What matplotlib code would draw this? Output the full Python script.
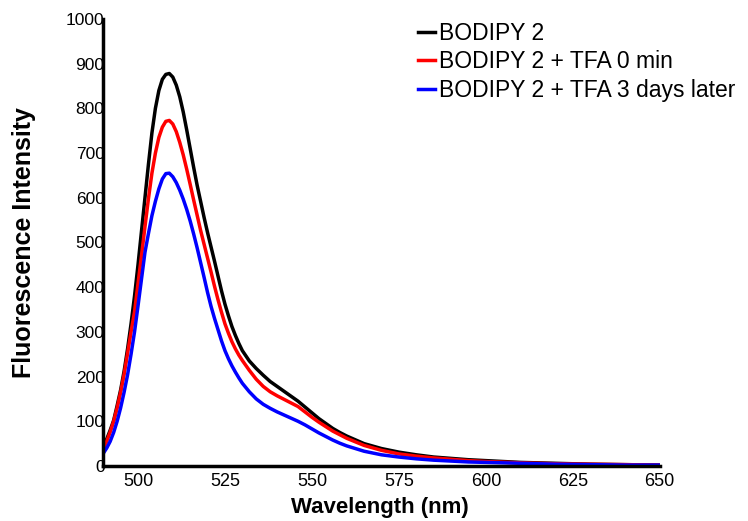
import matplotlib
matplotlib.use("Agg")
import matplotlib.pyplot as plt

wl = [490, 491, 492, 493, 494, 495, 496, 497, 498, 499, 500, 501, 502, 503, 504, 505,
      506, 507, 508, 509, 510, 511, 512, 513, 514, 515, 516, 517, 518, 519, 520, 521,
      522, 523, 524, 525, 526, 527, 528, 529, 530, 532, 534, 536, 538, 540, 542, 544,
      546, 548, 550, 552, 554, 556, 558, 560, 565, 570, 575, 580, 585, 590, 595, 600,
      610, 620, 630, 640, 650]

bodipy = [42, 60, 80, 102, 135, 170, 212, 262, 318, 380, 450, 525, 600, 675, 745, 800,
          840, 865, 876, 878, 870, 852, 826, 792, 752, 710, 668, 628, 592, 556, 522, 490,
          458, 425, 392, 362, 336, 312, 292, 274, 258, 235, 218, 203, 189, 178, 167, 156,
          145, 132, 119, 106, 95, 84, 75, 67, 50, 39, 31, 25, 20, 17, 14, 12,
          8, 6, 4, 3, 2]

tfa_0 = [38, 55, 76, 100, 130, 165, 205, 252, 300, 345, 408, 470, 535, 598, 655, 700,
         735, 758, 771, 773, 765, 748, 724, 696, 664, 630, 595, 561, 527, 496, 465, 434,
         402, 372, 344, 318, 297, 278, 262, 248, 236, 214, 194, 178, 166, 157, 149, 141,
         133, 121, 109, 98, 88, 78, 70, 62, 46, 35, 27, 22, 18, 15, 12, 10,
         7, 5, 4, 3, 2]

tfa_3d = [28, 40, 55, 75, 100, 130, 165, 204, 250, 300, 358, 418, 478, 520, 560, 592,
          620, 642, 654, 655, 647, 634, 617, 597, 574, 548, 519, 488, 455, 422, 388, 357,
          330, 305, 280, 258, 240, 224, 210, 197, 185, 166, 150, 138, 129, 121, 114, 107,
          100, 92, 83, 74, 66, 58, 51, 45, 33, 25, 20, 16, 13, 11, 9, 8,
          6, 4, 3, 2, 2]

labels = ["BODIPY 2", "BODIPY 2 + TFA 0 min", "BODIPY 2 + TFA 3 days later"]
colors = ["#000000", "#ff0000", "#0000ff"]
x_ticks = [500, 525, 550, 575, 600, 625, 650]
y_ticks = [0, 100, 200, 300, 400, 500, 600, 700, 800, 900, 1000]

plt.rcParams['font.family'] = ['Liberation Sans', 'DejaVu Sans']

fig = plt.figure(figsize=(7.48, 5.21), dpi=100)
ax = fig.add_axes([0.138, 0.1056, 0.744, 0.858])

for y, lab, c in zip([bodipy, tfa_0, tfa_3d], labels, colors):
    ax.plot(wl, y, color=c, lw=2.5, label=lab, solid_joinstyle='round')

ax.set_xlim(490, 650)
ax.set_ylim(0, 1000)
ax.set_xticks(x_ticks)
ax.set_yticks(y_ticks)
ax.tick_params(axis='both', length=0)
ax.tick_params(axis='y', pad=-1, labelsize=12.5)
ax.tick_params(axis='x', pad=5, labelsize=13)
for s in ['top', 'right']:
    ax.spines[s].set_visible(False)
for s in ['left', 'bottom']:
    ax.spines[s].set_linewidth(2.5)

ax.set_xlabel("Wavelength (nm)", fontsize=16, fontweight='bold')
ax.xaxis.set_label_coords(0.497, -0.07)
ax.set_ylabel("Fluorescence Intensity", fontsize=18, fontweight='bold')
ax.yaxis.set_label_coords(-0.121, 0.5)

fig.legend(loc='upper left', bbox_to_anchor=(418 / 748, 1 - 22 / 521), frameon=False,
           fontsize=16.5, handlelength=0.75, handletextpad=0.17, labelspacing=0.24,
           borderaxespad=0, borderpad=0)

fig.savefig("out.png", dpi=100)
